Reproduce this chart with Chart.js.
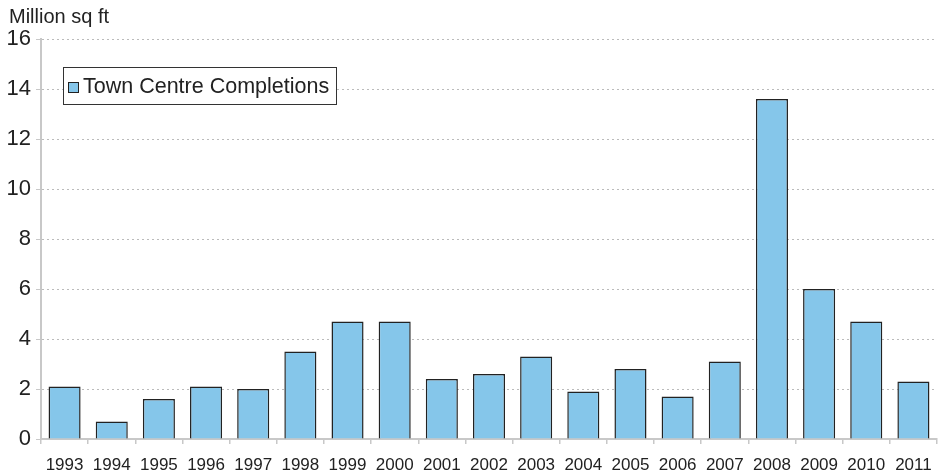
<!DOCTYPE html>
<html>
<head>
<meta charset="utf-8">
<script src="https://cdn.jsdelivr.net/npm/chart.js@4"></script>
<style>
  html, body { margin: 0; padding: 0; background: #fff; }
  #wrap { width: 938px; height: 475px; }
</style>
</head>
<body>
<div id="wrap"><canvas id="BarChart"></canvas></div>
<script>
const years = ['1993', '1994', '1995', '1996', '1997', '1998', '1999', '2000', '2001', '2002',
  '2003', '2004', '2005', '2006', '2007', '2008', '2009', '2010', '2011'];
const completions = [2.1, 0.7, 1.6, 2.1, 2.0, 3.5, 4.7, 4.7, 2.4, 2.6,
  3.3, 1.9, 2.8, 1.7, 3.1, 13.6, 6.0, 4.7, 2.3];
const seriesName = 'Town Centre Completions';
const unitLabel = 'Million sq ft';

const font = "'Liberation Sans', Arial, sans-serif";

// axis title + boxed legend drawn on the canvas
const extras = {
  id: 'extras',
  afterDraw(chart) {
    const c = chart.ctx;
    c.save();
    c.fillStyle = '#222';
    c.font = '20px ' + font;
    c.textBaseline = 'middle';
    c.fillText(unitLabel, 9, 17);

    // legend box
    c.fillStyle = '#fff';
    c.fillRect(63, 67, 274, 37);
    c.strokeStyle = '#333';
    c.lineWidth = 1;
    c.strokeRect(63.5, 67.5, 273, 37);
    c.fillStyle = '#85c6ea';
    c.fillRect(68, 82, 11, 11);
    c.strokeStyle = '#222';
    c.strokeRect(68.5, 82.5, 10, 10);
    c.fillStyle = '#222';
    c.font = '21.5px ' + font;
    c.fillText(seriesName, 83, 87);
    c.restore();
  }
};

new Chart(document.getElementById('BarChart').getContext('2d'), {
  type: 'bar',
  data: {
    labels: years,
    datasets: [{
      label: seriesName,
      data: completions,
      backgroundColor: '#85c6ea',
      borderColor: '#222',
      borderWidth: 1.5,
      categoryPercentage: 0.68,
      barPercentage: 1
    }]
  },
  options: {
    responsive: true,
    maintainAspectRatio: false,
    animation: false,
    layout: { padding: { top: 39, right: 1, left: 0, bottom: 0 } },
    plugins: {
      legend: { display: false },
      tooltip: { enabled: false }
    },
    scales: {
      x: {
        grid: { display: true, drawOnChartArea: false, tickLength: 5, color: '#c8c8c8', lineWidth: 1.5 },
        border: { display: true, color: '#c8c8c8', width: 2 },
        ticks: { color: '#222', font: { family: font, size: 17 }, padding: 11, maxRotation: 0, autoSkip: false },
        afterFit(s) { s.height = 36; s.paddingRight = 0; s.paddingLeft = 0; }
      },
      y: {
        min: 0,
        max: 16,
        ticks: { stepSize: 2, color: '#222', font: { family: font, size: 22 }, padding: 5 },
        grid: {
          color: '#bbb',
          lineWidth: 1,
          tickLength: 5,
          tickColor: '#c8c8c8'
        },
        border: { display: true, color: '#c8c8c8', width: 2, dash: [2, 3] },
        afterFit(s) { s.width = 41; }
      }
    }
  },
  plugins: [extras]
});
</script>
</body>
</html>
